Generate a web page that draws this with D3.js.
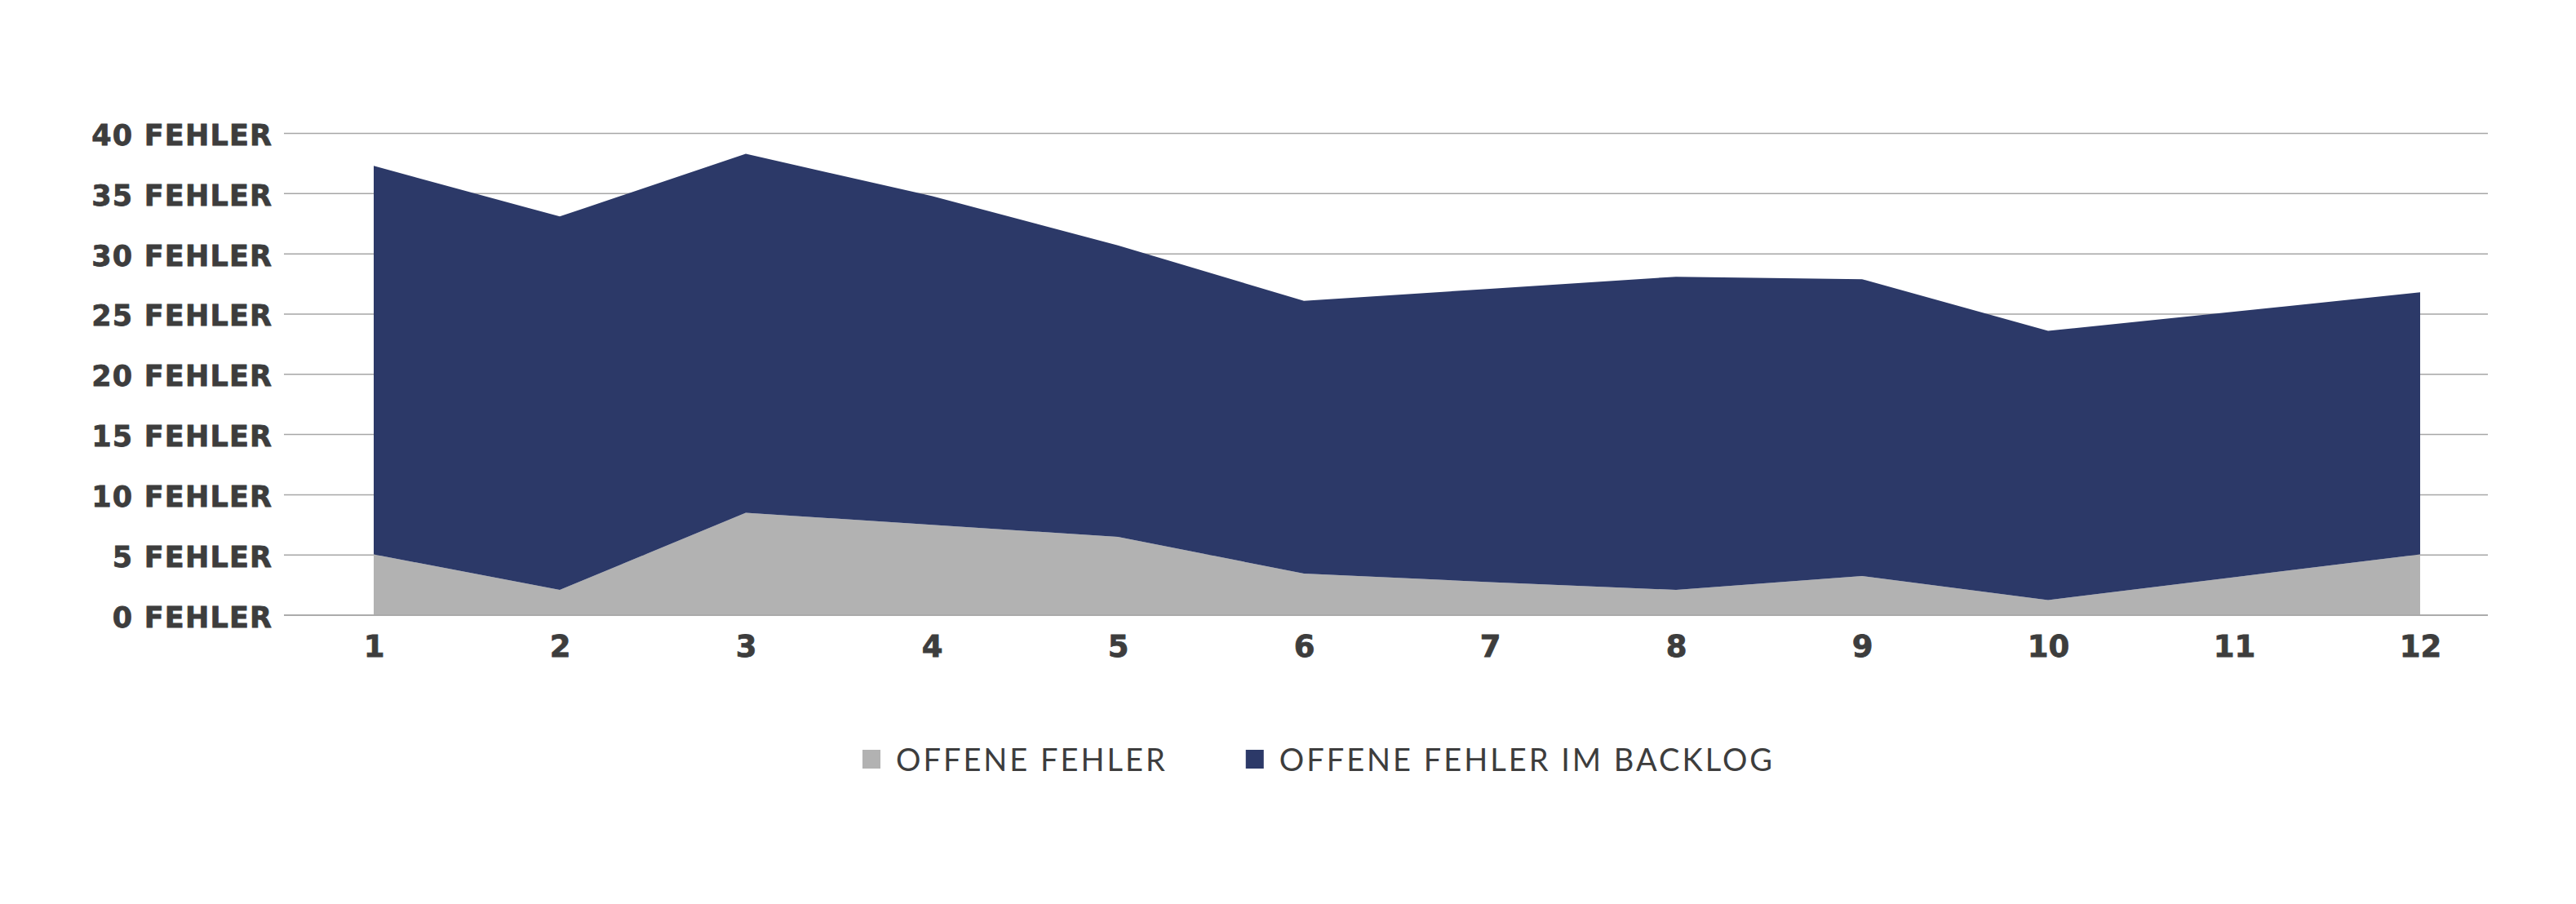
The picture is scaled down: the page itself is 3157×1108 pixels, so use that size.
<!DOCTYPE html>
<html>
<head>
<meta charset="utf-8">
<script src="https://cdn.jsdelivr.net/npm/d3@7"></script>
<style>
  html, body { margin: 0; padding: 0; background: #fff; }
  svg { display: block; }
</style>
</head>
<body>
<div id="container"></div>
<script>
const months = ["1", "2", "3", "4", "5", "6", "7", "8", "9", "10", "11", "12"];
// open bugs (bottom layer)
const openBugs = [5.05, 2.1, 8.5, 7.5, 6.5, 3.45, 2.75, 2.1, 3.25, 1.25, 3.15, 5.05];
// open bugs in backlog (stacked on top)
const backlogBugs = [32.25, 31.0, 29.8, 27.3, 24.2, 22.65, 24.35, 26.0, 24.65, 22.35, 22.05, 21.75];
const yTicks = [0, 5, 10, 15, 20, 25, 30, 35, 40];
const seriesNames = ["OFFENE FEHLER", "OFFENE FEHLER IM BACKLOG"];
const seriesColors = ["#b2b2b2", "#2c3968"];

main();

function main() {
  const width = 3157;
  const height = 1108;
  const textColor = "#3d3d3d";
  const boldFont = "'DejaVu Sans', Lato, sans-serif";
  const font = "Lato, 'Open Sans', 'DejaVu Sans', sans-serif";

  const data = months.map((m, i) => ({
    month: m,
    open: openBugs[i],
    backlog: backlogBugs[i],
  }));

  const svg = d3
    .select("#container")
    .append("svg")
    .attr("width", width)
    .attr("height", height);

  const gridLeft = 348;
  const gridRight = 3049;

  const scaleX = d3.scalePoint().domain(months).range([458, 2966]);
  const scaleY = d3.scaleLinear().domain([0, 40]).range([754, 163.5]);

  // gridlines
  const grid = svg.append("g").classed("grid", true);
  grid
    .selectAll("line")
    .data(yTicks)
    .join("line")
    .attr("x1", gridLeft)
    .attr("x2", gridRight)
    .attr("y1", (d) => scaleY(d))
    .attr("y2", (d) => scaleY(d))
    .attr("stroke", "#a6a6a6")
    .attr("stroke-width", 1.5);

  // stacked areas
  const stack = d3.stack().keys(["open", "backlog"]);
  const layers = stack(data);
  const area = d3
    .area()
    .x((d) => scaleX(d.data.month))
    .y0((d) => scaleY(d[0]))
    .y1((d) => scaleY(d[1]));

  svg
    .append("g")
    .classed("areas", true)
    .selectAll("path")
    .data(layers)
    .join("path")
    .attr("fill", (d, i) => seriesColors[i])
    .attr("d", area);

  // baseline redrawn over the areas
  svg
    .append("line")
    .attr("x1", gridLeft)
    .attr("x2", gridRight)
    .attr("y1", scaleY(0))
    .attr("y2", scaleY(0))
    .attr("stroke", "#a6a6a6")
    .attr("stroke-width", 1.5);

  // y axis labels
  const yAxis = d3
    .axisLeft(scaleY)
    .tickValues(yTicks)
    .tickSize(0)
    .tickPadding(0)
    .tickFormat((d) => `${d} FEHLER`);
  const yAxisGroup = svg
    .append("g")
    .attr("transform", `translate(333, 0)`)
    .call(yAxis);
  yAxisGroup.select(".domain").remove();
  const yLabels = yAxisGroup
    .selectAll("text")
    .attr("font-family", boldFont)
    .attr("font-weight", 700)
    .attr("font-size", 35)
    .attr("fill", textColor)
    .attr("stroke", textColor)
    .attr("stroke-width", 0.8)
    .attr("dy", "0.4em");
  // widen spacing so "40 FEHLER" spans about 222px like the original
  const topLabel = yLabels.filter((d) => d === 40).node();
  const spacing = Math.max(0, (222 - topLabel.getComputedTextLength()) / 9);
  yLabels.attr("letter-spacing", spacing).attr("dx", spacing);

  // x axis labels
  const xAxis = d3.axisBottom(scaleX).tickSize(0).tickPadding(0);
  const xAxisGroup = svg
    .append("g")
    .attr("transform", `translate(0, 777)`)
    .call(xAxis);
  xAxisGroup.select(".domain").remove();
  xAxisGroup
    .selectAll("text")
    .attr("font-family", boldFont)
    .attr("font-weight", 700)
    .attr("font-size", 37)
    .attr("fill", textColor)
    .attr("stroke", textColor)
    .attr("stroke-width", 0.8)
    .attr("dy", "0.75em");

  // legend
  const legend = svg.append("g").classed("legend", true);
  let x = 1057;
  seriesNames.forEach((name, i) => {
    legend
      .append("rect")
      .attr("x", x)
      .attr("y", 919)
      .attr("width", 22)
      .attr("height", 23)
      .attr("fill", seriesColors[i]);
    const t = legend
      .append("text")
      .attr("x", x + 41)
      .attr("y", 945)
      .attr("font-family", font)
      .attr("font-size", 38)
      .attr("letter-spacing", 3)
      .attr("fill", textColor)
      .text(name);
    x += 41 + t.node().getComputedTextLength() + 96;
  });
}
</script>
</body>
</html>
